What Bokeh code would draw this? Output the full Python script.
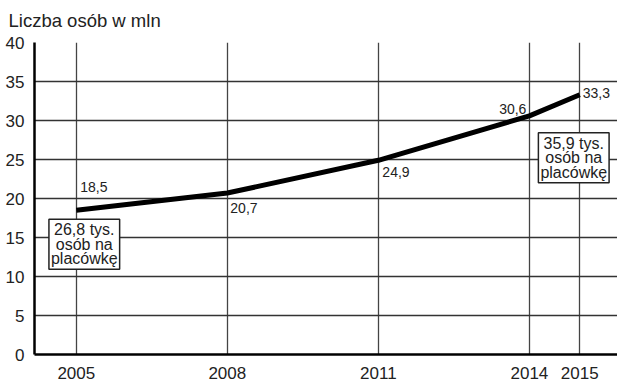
from bokeh.plotting import figure
from bokeh.models import FixedTicker, Range1d, Label, ColumnDataSource
from bokeh.embed import file_html
from bokeh.resources import INLINE

# --- data ---
years = [2005, 2008, 2011, 2014, 2015]
values = [18.5, 20.7, 24.9, 30.6, 33.3]
value_labels = ["18,5", "20,7", "24,9", "30,6", "33,3"]
y_ticks = [0, 5, 10, 15, 20, 25, 30, 35, 40]
title_text = "Liczba osób w mln"
box_texts = ["26,8 tys.\nosób na\nplacówkę", "35,9 tys.\nosób na\nplacówkę"]
box_years = [2005, 2015]

FONT = "Liberation Sans"

p = figure(width=617, height=383, output_backend="svg", toolbar_location=None,
           x_range=Range1d(2004.17, 2015.75), y_range=Range1d(0, 40),
           min_border_left=34, min_border_right=0, min_border_bottom=29, min_border_top=42)
p.background_fill_color = "white"
p.border_fill_color = "white"
p.outline_line_color = None

p.title.text = title_text
p.title.text_font = FONT
p.title.text_font_size = "18.5px"
p.title.text_font_style = "normal"
p.title.text_color = "#222222"
p.title.offset = -26
p.title.standoff = 19
p.title.vertical_align = "top"

# axes
p.xaxis.ticker = FixedTicker(ticks=years)
p.yaxis.ticker = FixedTicker(ticks=y_ticks)
for ax in (p.xaxis[0], p.yaxis[0]):
    ax.axis_line_color = "black"
    ax.axis_line_width = 2.5
    ax.major_tick_line_color = None
    ax.minor_tick_line_color = None
    ax.major_label_text_font = FONT
    ax.major_label_text_font_size = "17px"
    ax.major_label_text_color = "#222222"
p.yaxis.major_label_standoff = 4
p.xaxis.major_label_standoff = 6

p.xgrid.grid_line_color = "#444444"
p.xgrid.grid_line_width = 1.3
p.ygrid.grid_line_color = "#333333"
p.ygrid.grid_line_width = 1.3

src = ColumnDataSource(dict(x=years, y=values, t=value_labels))
p.line("x", "y", source=src, line_color="black", line_width=5)

# label placement (offset px, align, baseline)
placement = [
    (4, 18, "left", "bottom"),
    (3, -10, "left", "top"),
    (4, -7, "left", "top"),
    (-3, 2, "right", "bottom"),
    (3, -3, "left", "bottom"),
]
for yr, v, t, (dx, dy, al, bl) in zip(years, values, value_labels, placement):
    p.add_layout(Label(x=yr, y=v, text=t, x_offset=dx, y_offset=dy,
                       text_align=al, text_baseline=bl,
                       text_font=FONT, text_font_size="14px", text_color="#222222"))

box_pos = [(8, -34), (-6, -63)]
for yr, txt, (dx, dy) in zip(box_years, box_texts, box_pos):
    v = values[years.index(yr)]
    p.add_layout(Label(x=yr, y=v, text=txt, x_offset=dx, y_offset=dy,
                       text_align="center", text_baseline="middle",
                       text_font=FONT, text_font_size="16px", text_color="#222222",
                       text_line_height=0.85,
                       background_fill_color="white", border_line_color="#222222",
                       border_line_width=1.5, padding=2))

open("out.html", "w").write(file_html(p, INLINE))
